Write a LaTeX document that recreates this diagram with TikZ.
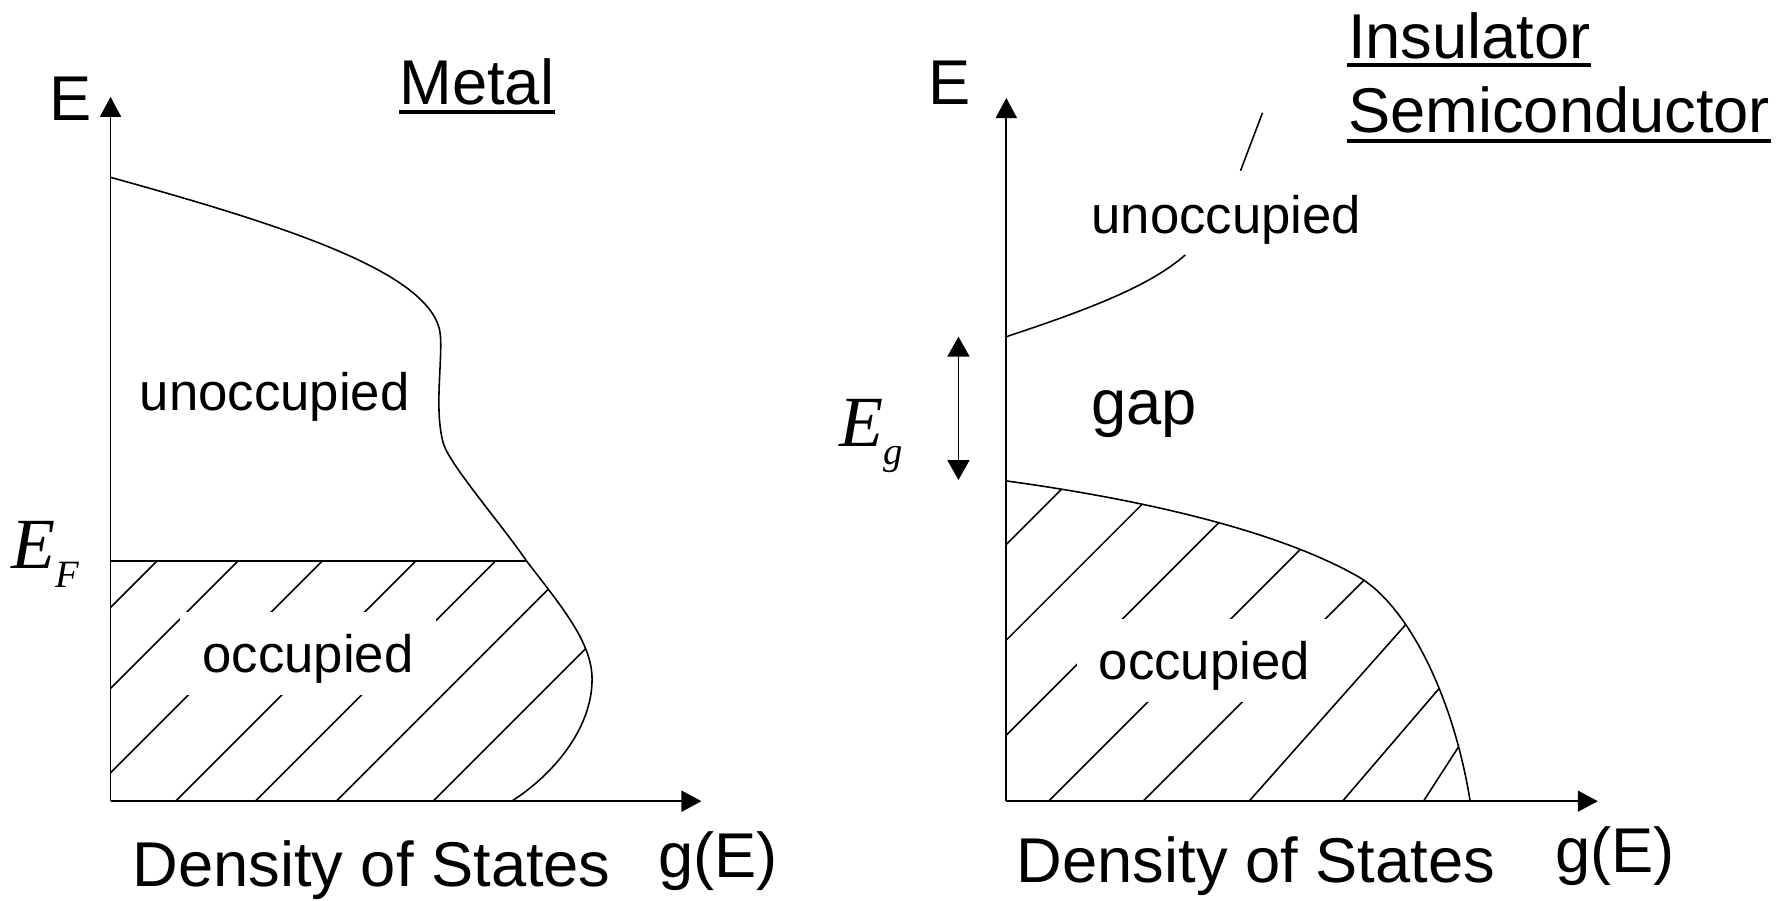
\documentclass[tikz,border=0pt]{standalone}
\usepackage{fontspec}
\setmainfont{Liberation Sans}
\newfontfamily\serifit{Liberation Serif}
\usetikzlibrary{arrows.meta}
\begin{document}
\begin{tikzpicture}[x=0.11397mm, y=-0.11397mm,
  ln/.style={line width=0.45pt},
  tip/.style={line width=0.5pt},
  big/.style={inner sep=0pt, font=\fontsize{18}{21}\selectfont},
  mid/.style={inner sep=0pt, font=\fontsize{15}{18}\selectfont},
  sym/.style={inner sep=0pt, font=\serifit\itshape\fontsize{20.5}{24}\selectfont},
  ul/.style={line width=1.1pt},
  occbox/.style={mid, fill=white, inner xsep=6.3pt, inner ysep=0pt, text height=17.2pt, text depth=6.4pt},
  hatch/.style={line width=0.45pt}]
\useasboundingbox (0,0) rectangle (1568,790);

% ---------------- left panel: metal ----------------
\coordinate (oL) at (97,703);
\coordinate (yL) at (97,85);
\coordinate (xL) at (615.5,703);
\coordinate (efA) at (97,492.2);
\coordinate (efB) at (462,492.2);
\coordinate (bandTop) at (97,155.6);
\coordinate (bandMax) at (519.5,597);
\coordinate (bandEnd) at (449,703);

\begin{scope}
  \clip (oL) -- (efA) -- (efB) .. controls (495,535) and (520,565) .. (bandMax)
        .. controls (519,640) and (485,680) .. (bandEnd) -- cycle;
  \foreach \c in {-73,-2,72,154,224,295,380}
    \draw[hatch] (\c,703) -- ++(260,-260);
\end{scope}

\draw[ln] (bandTop) .. controls (250,198) and (383,240) .. (386.5,295)
                    .. controls (388,320) and (381,360) .. (389,389)
                    .. controls (394,407) and (440,460) .. (efB)
                    .. controls (495,535) and (520,565) .. (bandMax)
                    .. controls (519,640) and (485,680) .. (bandEnd);
\draw[ln] (efA) -- (efB);

\draw[tip, -{Triangle[length=2mm,width=2.1mm]}] (oL) -- (yL);
\draw[tip, -{Triangle[length=2mm,width=2.1mm]}] (oL) -- (xL);

\node[big, anchor=base] (EL) at (62,106) {E};
\node[big, anchor=base] (metal) at (418.4,92) {Metal};
\draw[ul] ([yshift=-0.75mm]metal.base west) -- ([yshift=-0.75mm]metal.base east);
\node[mid, anchor=base] (unoccL) at (241,360.3) {unoccupied};
\node[occbox, anchor=base] (occL) at (270.3,590.2) {occupied};
\node[big, anchor=base] (dosL) at (326,778) {Density of States};
\node[big, anchor=base] (gEL) at (630,770) {g(E)};
\node[sym, anchor=base west] (EF) at (9.9,498.7) {E\raisebox{-5.4pt}{\fontsize{11}{13}\selectfont F}};

% ---------------- right panel: insulator / semiconductor ----------------
\coordinate (oR) at (883,703);
\coordinate (yR) at (883,86);
\coordinate (xR) at (1402,703);
\coordinate (cbStart) at (883,295.4);
\coordinate (cbEnd) at (1040,223.7);
\coordinate (cbA) at (1088.5,149.8);
\coordinate (cbB) at (1107.8,98.9);
\coordinate (vbStart) at (883,422);
\coordinate (vbMid) at (1191.8,506);
\coordinate (vbEnd) at (1290,703);
\coordinate (egT) at (841,295.4);
\coordinate (egB) at (841,421.2);

\begin{scope}
  \clip (oR) -- (vbStart) .. controls (1000,438) and (1120,465) .. (vbMid)
        .. controls (1235,531) and (1275,610) .. (vbEnd) -- cycle;
  \foreach \c/\s in {657.6/1,741.6/1,825/1,920/1,1003/1,1096/0.887,1178/0.857,1249/0.646}
    \draw[hatch] (\c,703) -- ++(320*\s,-320);
\end{scope}

\draw[ln] (cbStart) .. controls (960,270) and (1010,250) .. (cbEnd);
\draw[ln] (cbA) -- (cbB);
\draw[ln] (vbStart) .. controls (1000,438) and (1120,465) .. (vbMid)
          .. controls (1235,531) and (1275,610) .. (vbEnd);

\draw[tip, -{Triangle[length=2mm,width=2.1mm]}] (oR) -- (yR);
\draw[tip, -{Triangle[length=2mm,width=2.1mm]}] (oR) -- (xR);
\draw[tip, {Triangle[length=2mm,width=2.2mm]}-{Triangle[length=2mm,width=2.2mm]}] (egT) -- (egB);

\node[big, anchor=base] (ER) at (833.5,91.3) {E};
\node[big, anchor=base west] (ins) at (1182.3,51.2) {Insulator};
\draw[ul] ([yshift=-0.7mm]ins.base west) -- ([yshift=-0.7mm]ins.base east);
\node[big, anchor=base west] (semi) at (1182.3,116.7) {Semiconductor};
\draw[ul] ([yshift=-0.8mm]semi.base west) -- ([yshift=-0.8mm]semi.base east);
\node[mid, anchor=base] (unoccR) at (1076,204.7) {unoccupied};
\node[big, anchor=base] (gap) at (1004,372.9) {gap};
\node[occbox, anchor=base] (occR) at (1056.7,596.6) {occupied};
\node[big, anchor=base] (dosR) at (1102,774) {Density of States};
\node[big, anchor=base] (gER) at (1417,766) {g(E)};
\node[sym, anchor=base west] (Eg) at (736,392) {E\raisebox{-5pt}{\fontsize{11}{13}\selectfont g}};
\end{tikzpicture}
\end{document}
